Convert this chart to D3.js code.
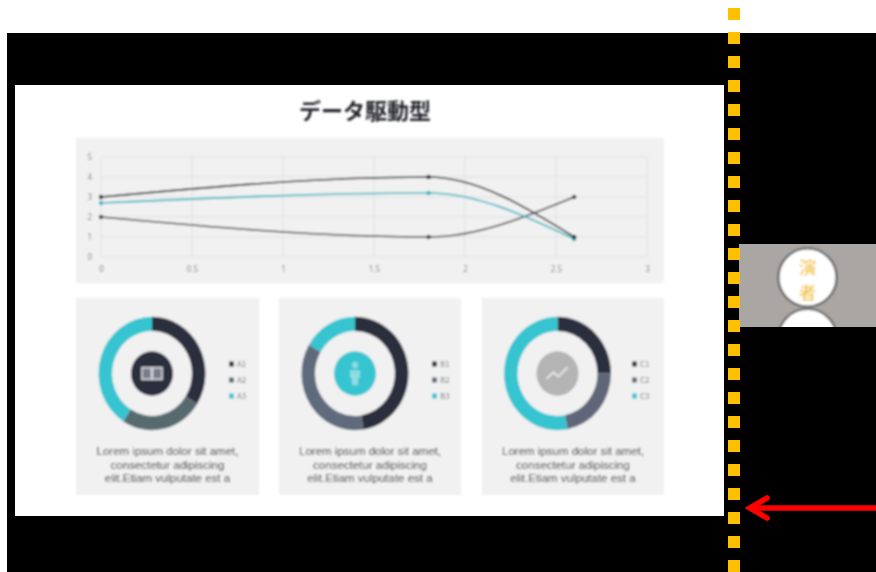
<!DOCTYPE html>
<html><head><meta charset="utf-8">
<script src="https://cdn.jsdelivr.net/npm/d3@7"></script>
<style>html,body{margin:0;padding:0;background:#fff;overflow:hidden}svg{display:block}text{font-family:"Noto Sans CJK JP","Noto Sans",sans-serif}</style>
</head><body><svg id="c" width="876" height="572"></svg>
<script>
const title = "データ駆動型";
const xPoints = [0, 1.8, 2.6];
const seriesDark = [3, 4, 1];
const seriesGrey = [2, 1, 3];
const seriesCyan = [2.7, 3.2, 0.9];
const xTicks = [0, 0.5, 1, 1.5, 2, 2.5, 3];
const yTicks = [0, 1, 2, 3, 4, 5];
const donutA = [34, 25, 41];
const donutB = [47.5, 36, 16.5];
const donutC = [25, 22, 53];
const labelsA = ["A1", "A2", "A3"];
const labelsB = ["B1", "B2", "B3"];
const labelsC = ["C1", "C2", "C3"];
const bodyLines = ["Lorem ipsum dolor sit amet,", "consectetur adipiscing", "elit.Etiam vulputate est a"];
const speaker = ["演", "者"];

const DARK = "#2c2e3c", CYAN = "#35c4d0", PANEL = "#f1f1f1";
const svg = d3.select("#c");
const defs = svg.append("defs");
const addBlur = (id, sd) => defs.append("filter").attr("id", id).attr("filterUnits", "userSpaceOnUse")
  .attr("x", 0).attr("y", 0).attr("width", 876).attr("height", 572)
  .append("feGaussianBlur").attr("stdDeviation", sd);
addBlur("soft", 0.8);
addBlur("softTile", 0.8);

// stage
svg.append("rect").attr("x", 7).attr("y", 33).attr("width", 869).attr("height", 539).attr("fill", "#000");
svg.append("rect").attr("x", 15).attr("y", 85).attr("width", 709).attr("height", 431).attr("fill", "#fff");
const slide = svg.append("g").attr("filter", "url(#soft)");
slide.append("text").attr("x", 365).attr("y", 119).attr("text-anchor", "middle")
  .attr("font-size", 22).attr("font-weight", 700).attr("fill", "#25272e").text(title);

// line chart
slide.append("rect").attr("x", 76).attr("y", 138).attr("width", 588).attr("height", 145).attr("fill", PANEL);
const x = d3.scaleLinear().domain([0, 3]).range([101, 647]);
const y = d3.scaleLinear().domain([0, 5]).range([257, 157]);
const grid = slide.append("g");
grid.selectAll(".gx").data(xTicks).join("line").attr("x1", d => x(d)).attr("x2", d => x(d))
  .attr("y1", y(5)).attr("y2", y(0)).attr("stroke", "#e0e0e0").attr("stroke-width", 1);
grid.selectAll(".gy").data(yTicks).join("line").attr("y1", d => y(d)).attr("y2", d => y(d))
  .attr("x1", x(0)).attr("x2", x(3)).attr("stroke", "#e0e0e0").attr("stroke-width", 1);
const axX = slide.append("g").attr("transform", "translate(0,257)")
  .call(d3.axisBottom(x).tickValues(xTicks).tickFormat(d3.format("~g")).tickSize(0).tickPadding(9));
const axY = slide.append("g").attr("transform", "translate(101,0)")
  .call(d3.axisLeft(y).tickValues(yTicks).tickFormat(d3.format("d")).tickSize(0).tickPadding(9));
[axX, axY].forEach(a => {
  a.select(".domain").remove();
  a.selectAll("text").attr("font-size", 8).attr("fill", "#808080").style("font-family", '"Noto Sans",sans-serif');
});
const line = d3.line().x((d, i) => x(xPoints[i])).y(d => y(d)).curve(d3.curveMonotoneX);
[[seriesGrey, "#3a3d45"], [seriesCyan, "#22b4bf"], [seriesDark, "#15161d"]].forEach(([s, col]) => {
  slide.append("path").attr("d", line(s)).attr("fill", "none").attr("stroke", col).attr("stroke-width", 1.6);
  slide.selectAll(null).data(s).join("circle").attr("cx", (d, i) => x(xPoints[i])).attr("cy", d => y(d))
    .attr("r", 2.2).attr("fill", col);
});

// donuts
const pie = d3.pie().sort(null);
const arc = d3.arc().innerRadius(40).outerRadius(53.5);
const cards = [
  {px: 76, w: 183, cx: 152, data: donutA, labels: labelsA, hub: DARK, mid: "#566a70", lx: 232, icon: "link"},
  {px: 279, w: 182, cx: 355, data: donutB, labels: labelsB, hub: CYAN, mid: "#5f6b7c", lx: 435, icon: "person"},
  {px: 482, w: 182, cx: 557.5, data: donutC, labels: labelsC, hub: "#b4b4b4", mid: "#5f6678", lx: 635, icon: "trend"}
];
cards.forEach(c => {
  const colors = [DARK, c.mid, CYAN];
  slide.append("rect").attr("x", c.px).attr("y", 298).attr("width", c.w).attr("height", 197).attr("fill", PANEL);
  const g = slide.append("g").attr("transform", `translate(${c.cx},373.5) scale(1,1.06)`);
  g.selectAll("path").data(pie(c.data)).join("path").attr("d", arc).attr("fill", (d, i) => colors[i]);
  g.append("circle").attr("r", 21).attr("fill", c.hub);
  if (c.icon === "link") {
    g.append("rect").attr("x", -10).attr("y", -5.5).attr("width", 9.5).attr("height", 11).attr("fill", "#777b88").attr("stroke", "#d5d7dc").attr("stroke-width", 1.6);
    g.append("rect").attr("x", 0.5).attr("y", -5.5).attr("width", 9.5).attr("height", 11).attr("fill", "#777b88").attr("stroke", "#d5d7dc").attr("stroke-width", 1.6);
  } else if (c.icon === "person") {
    g.append("circle").attr("cy", -8).attr("r", 3).attr("fill", "#8fdde4");
    g.append("path").attr("d", "M-5,-3H5V4H3V11H-3V4H-5Z").attr("fill", "#8fdde4");
  } else {
    g.append("path").attr("d", "M-11,5L-4,-1L1,3L10,-6").attr("fill", "none").attr("stroke", "#e4e4e4").attr("stroke-width", 2);
  }
  c.labels.forEach((t, i) => {
    const ly = 364 + i * 16;
    slide.append("rect").attr("x", c.lx - 3).attr("y", ly - 2.5).attr("width", 5).attr("height", 5).attr("fill", colors[i]);
    slide.append("text").attr("x", c.lx + 5).attr("y", ly + 3).attr("font-size", 8).attr("fill", "#707070").text(t);
  });
  bodyLines.forEach((t, i) => {
    slide.append("text").attr("x", c.px + c.w / 2).attr("y", 455 + i * 13.5).attr("text-anchor", "middle")
      .attr("font-size", 11.5).attr("fill", "#333").style("font-family", '"Liberation Sans",sans-serif').text(t);
  });
});

// speaker tile
defs.append("clipPath").attr("id", "tile").append("rect").attr("x", 739).attr("y", 244).attr("width", 137).attr("height", 83);
svg.append("rect").attr("x", 739).attr("y", 244).attr("width", 137).attr("height", 83).attr("fill", "#aaa6a3");
const sp = svg.append("g").attr("clip-path", "url(#tile)").append("g").attr("filter", "url(#softTile)");
sp.append("circle").attr("cx", 807.5).attr("cy", 277.5).attr("r", 29).attr("fill", "#fff").attr("stroke", "#5f5f5f").attr("stroke-width", 2.2);
sp.append("circle").attr("cx", 807.5).attr("cy", 338).attr("r", 29).attr("fill", "#fff").attr("stroke", "#5f5f5f").attr("stroke-width", 2.2);
speaker.forEach((t, i) => sp.append("text").attr("x", 807.5).attr("y", 273.5 + i * 25.5).attr("text-anchor", "middle")
  .attr("font-size", 17.5).attr("font-weight", 500).attr("fill", "#f2c52e").text(t));

// dotted marker
svg.append("g").selectAll("rect").data(d3.range(24)).join("rect")
  .attr("x", 728).attr("y", d => 8 + d * 24).attr("width", 12).attr("height", 12).attr("fill", "#ffc000");

// red arrow
svg.append("line").attr("x1", 876).attr("x2", 752).attr("y1", 508).attr("y2", 508).attr("stroke", "#f00").attr("stroke-width", 5.5);
svg.append("path").attr("d", "M767,498L750,508L767,518").attr("fill", "none").attr("stroke", "#f00")
  .attr("stroke-width", 5.5).attr("stroke-linecap", "round").attr("stroke-linejoin", "miter");
</script></body></html>
